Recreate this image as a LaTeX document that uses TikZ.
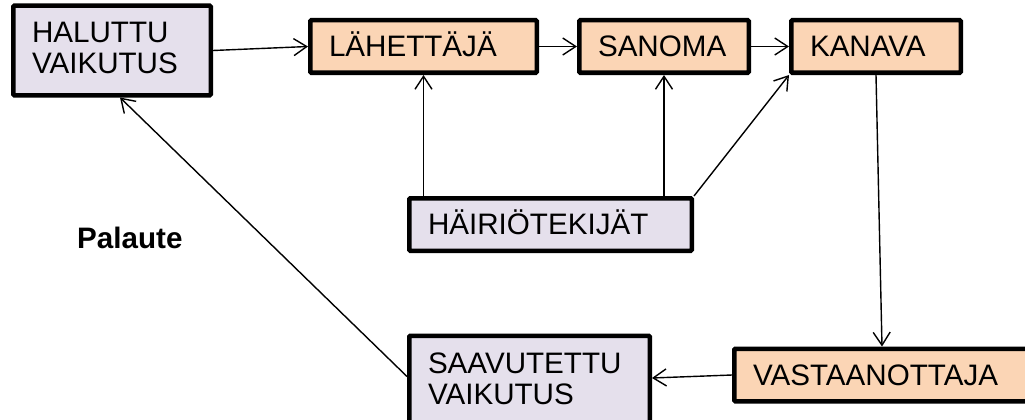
\documentclass[tikz,border=0pt]{standalone}
\usepackage{fontspec}
\setmainfont{Liberation Sans}
\usetikzlibrary{arrows.meta}
\definecolor{peach}{HTML}{FBD5B5}
\definecolor{lav}{HTML}{E5E0EC}
\begin{document}
\begin{tikzpicture}[x=1pt,y=-1pt,
  box/.style={draw=black, line width=4.5pt, rounded corners=1pt, inner xsep=18.75pt, inner ysep=0pt,
    align=left, font=\fontsize{29.6}{31}\selectfont, text height=20pt, text depth=0pt},
  one/.style={box, minimum height=52.5pt},
  two/.style={box, text depth=35pt, minimum height=89.5pt},
  arr/.style={line width=1.4pt, -{Straight Barb[length=13pt,width=17pt,line width=1.4pt]}}
]
\useasboundingbox (0,0) rectangle (1025,420);
\clip (0,0) rectangle (1025,420);
\node[two, fill=lav, minimum width=197.5pt, text width=160pt] (h) at (112,50.5) {HALUTTU\\VAIKUTUS};
\node[one, fill=peach, minimum width=226.5pt, text width=189pt] (l) at (423.5,46.5) {LÄHETTÄJÄ};
\node[one, fill=peach, minimum width=169.5pt, text width=132pt] (s) at (664,46.5) {SANOMA};
\node[one, fill=peach, minimum width=169.5pt, text width=132pt] (k) at (876,46.5) {KANAVA};
\node[one, fill=lav, minimum width=282.5pt, text width=245pt] (d) at (550.5,224.5) {HÄIRIÖTEKIJÄT};
\node[two, fill=lav, minimum width=240.5pt, text width=203pt] (sv) at (529.5,380.5) {SAAVUTETTU\\VAIKUTUS};
\node[one, fill=peach, minimum width=303.5pt, text width=266pt] (v) at (886,375) {VASTAANOTTAJA};
\node[anchor=base west, inner sep=0pt, font=\fontsize{29.6}{31}\selectfont\bfseries] (p) at (77,248) {Palaute};
\draw[arr] (h.east) -- (l.west);
\draw[arr] (l.east) -- (s.west);
\draw[arr] (s.east) -- (k.west);
\draw[arr] (d.north -| l.south) -- (l.south);
\draw[arr] (d.north -| s.south) -- (s.south);
\draw[arr] (d.north east) -- (k.south west);
\draw[arr] (k.south) -- ([xshift=-4pt]v.north);
\draw[arr] (v.west) -- ([yshift=2.5pt]sv.east);
\draw[arr] ([yshift=4pt]sv.west) -- ([xshift=8pt]h.south);
\end{tikzpicture}
\end{document}
